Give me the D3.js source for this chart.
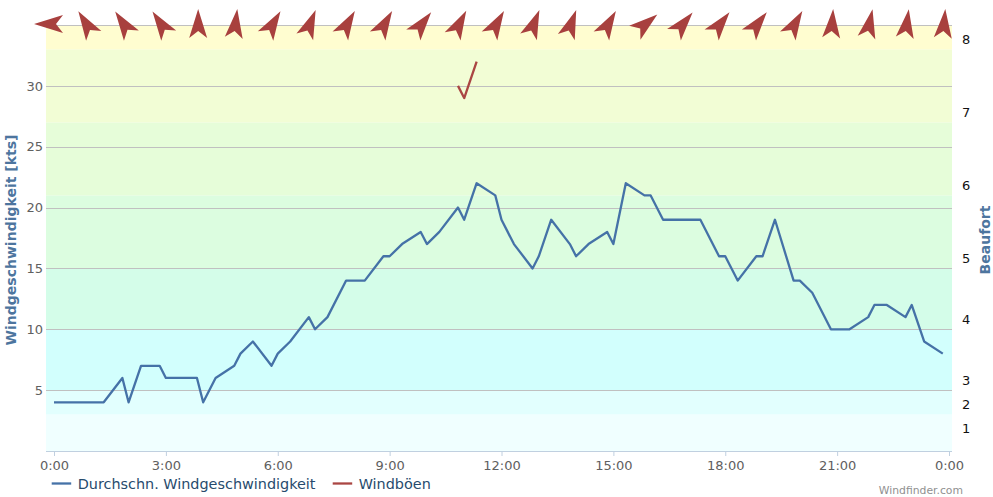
<!DOCTYPE html>
<html><head><meta charset="utf-8">
<script src="https://cdn.jsdelivr.net/npm/d3@7"></script>
<style>
body{margin:0;background:#fff}
svg{display:block;font-family:"DejaVu Sans",Verdana,sans-serif}
</style>
</head><body>
<svg id="chart" width="993" height="497"></svg>
<script>
// ---- data ----
const times = [
 "0:00","0:20","0:50","1:00","1:20","1:50","2:00","2:20","2:50","3:00","3:20","3:50",
 "4:00","4:20","4:50","5:00","5:20","5:50","6:00","6:20","6:50","7:00","7:20","7:50",
 "8:00","8:20","8:50","9:00","9:20","9:50","10:00","10:20","10:50","11:00","11:20","11:50",
 "12:00","12:20","12:50","13:00","13:20","13:50","14:00","14:20","14:50","15:00","15:20","15:50",
 "16:00","16:20","16:50","17:00","17:20","17:50","18:00","18:20","18:50","19:00","19:20","19:50",
 "20:00","20:20","20:50","21:00","21:20","21:50","22:00","22:20","22:50","23:00","23:20","23:50"];
const windSpeed = [
 4,4,4, 4,4,6, 4,7,7, 6,6,6,
 4,6,7, 8,9,7, 8,9,11, 10,11,14,
 14,14,16, 16,17,18, 17,18,20, 19,22,21,
 19,17,15, 16,19,17, 16,17,18, 17,22,21,
 21,19,19, 19,19,16, 16,14,16, 16,19,14,
 14,13,10, 10,10,11, 12,12,11, 12,9,8];
const windGust = times.map(t => ({"10:50":30, "11:00":29, "11:20":32})[t] ?? null);
const arrowHours = d3.range(0, 25);
const arrowBearing = [270,328,326,326,0,7,31,22,30,30,38,28,30,22,20,30,51,40,38,38,30,4,12,8,5];
const yTickValues = [5,10,15,20,25,30];
const xTickHours = [0,3,6,9,12,15,18,21,24];
const xTickLabels = ["0:00","3:00","6:00","9:00","12:00","15:00","18:00","21:00","0:00"];
const beaufortLabels = ["1","2","3","4","5","6","7","8"];
const beaufortKts = [1,3,5,10,15,21,27,33];
const bandEdges = [0,3,5,10,15,21,27,33,35];

// ---- styles ----
const bandColors = ["#f0ffff","#e2fffe","#d2fffd","#d4fde9","#dcfde0","#e6fdd9","#f2fdd5","#fffdd0"];
const blue = "#4572A7", red = "#AA4643";

const svg = d3.select("#chart");
const plotL = 46, plotR = 952;
const x = d3.scaleLinear().domain([0, 24]).range([54, 949]);
const y = d3.scaleLinear().domain([0, 35]).range([451, 25]);
const toH = t => { const [h, m] = t.split(":").map(Number); return h + m / 60; };

// bands
svg.append("g").selectAll("rect").data(bandColors).join("rect")
  .attr("x", plotL).attr("width", plotR - plotL)
  .attr("y", (d, i) => y(bandEdges[i + 1]))
  .attr("height", (d, i) => y(bandEdges[i]) - y(bandEdges[i + 1]))
  .attr("fill", d => d);

// grid lines
svg.append("g").selectAll("line").data(yTickValues.concat([35])).join("line")
  .attr("x1", plotL).attr("x2", plotR)
  .attr("y1", d => Math.round(y(d)) + 0.5).attr("y2", d => Math.round(y(d)) + 0.5)
  .attr("stroke", "#c0c0c0").attr("stroke-width", 1);

// left axis labels
const ya = svg.append("g").attr("transform", "translate(43,0)")
  .call(d3.axisLeft(y).tickValues(yTickValues).tickSize(0).tickPadding(0));
ya.select(".domain").remove();
ya.selectAll("text").attr("fill", "#606060").attr("font-size", 13).attr("font-family", "DejaVu Sans");

// x axis
const xa = svg.append("g").attr("transform", "translate(0,451)")
  .call(d3.axisBottom(x).tickValues(xTickHours).tickSize(5).tickPadding(5)
    .tickFormat((d, i) => xTickLabels[i]));
xa.select(".domain").attr("d", `M${plotL},0.5H${plotR}`).attr("stroke", "#c0d0e0");
xa.selectAll(".tick line").attr("stroke", "#c0d0e0");
xa.selectAll("text").attr("fill", "#606060").attr("font-size", 13).attr("font-family", "DejaVu Sans");

// beaufort labels
svg.append("g").selectAll("text").data(beaufortLabels).join("text")
  .attr("x", 962).attr("y", (d, i) => y(beaufortKts[i]) - 10)
  .attr("dy", "0.35em").attr("font-size", 13).attr("fill", "#111")
  .text(d => d);

// axis titles
svg.append("text").attr("transform", "translate(11,240) rotate(-90)")
  .attr("text-anchor", "middle").attr("dy", "0.35em")
  .attr("font-size", 14).attr("font-weight", "bold").attr("fill", "#4d759e")
  .text("Windgeschwindigkeit [kts]");
svg.append("text").attr("transform", "translate(985,240) rotate(-90)")
  .attr("text-anchor", "middle").attr("dy", "0.35em")
  .attr("font-size", 14).attr("font-weight", "bold").attr("fill", "#4d759e")
  .text("Beaufort");

// lines
const line = d3.line().defined(d => d[1] != null).x(d => x(toH(d[0]))).y(d => y(d[1]));
svg.append("path").datum(times.map((t, i) => [t, windSpeed[i]]))
  .attr("d", line).attr("fill", "none").attr("stroke", blue).attr("stroke-width", 2.3)
  .attr("stroke-linejoin", "round");
svg.append("path").datum(times.map((t, i) => [t, windGust[i]]))
  .attr("d", line).attr("fill", "none").attr("stroke", red).attr("stroke-width", 2.3)
  .attr("stroke-linejoin", "round");

// direction arrows
const arrowShape = "M0,-15L9,14L0,7L-9,14Z";
svg.append("g").selectAll("path").data(arrowHours).join("path")
  .attr("d", arrowShape)
  .attr("transform", (d, i) => `translate(${x(d) - 5},24) rotate(${arrowBearing[i]})`)
  .attr("fill", "#a8403e");

// legend
const leg = svg.append("g");
[[51.7, "Durchschn. Windgeschwindigkeit", blue], [332.7, "Windböen", red]].forEach(([lx, label, c]) => {
  leg.append("line").attr("x1", lx).attr("x2", lx + 19.5).attr("y1", 483.5).attr("y2", 483.5)
    .attr("stroke", c).attr("stroke-width", 2.3);
  leg.append("text").attr("x", lx + 26).attr("y", 489).attr("font-size", 14.4)
    .attr("fill", "#274b6d").text(label);
});

// credits
svg.append("text").attr("x", 963).attr("y", 494).attr("text-anchor", "end")
  .attr("font-size", 10.8).attr("fill", "#909090").text("Windfinder.com");
</script>
</body></html>
